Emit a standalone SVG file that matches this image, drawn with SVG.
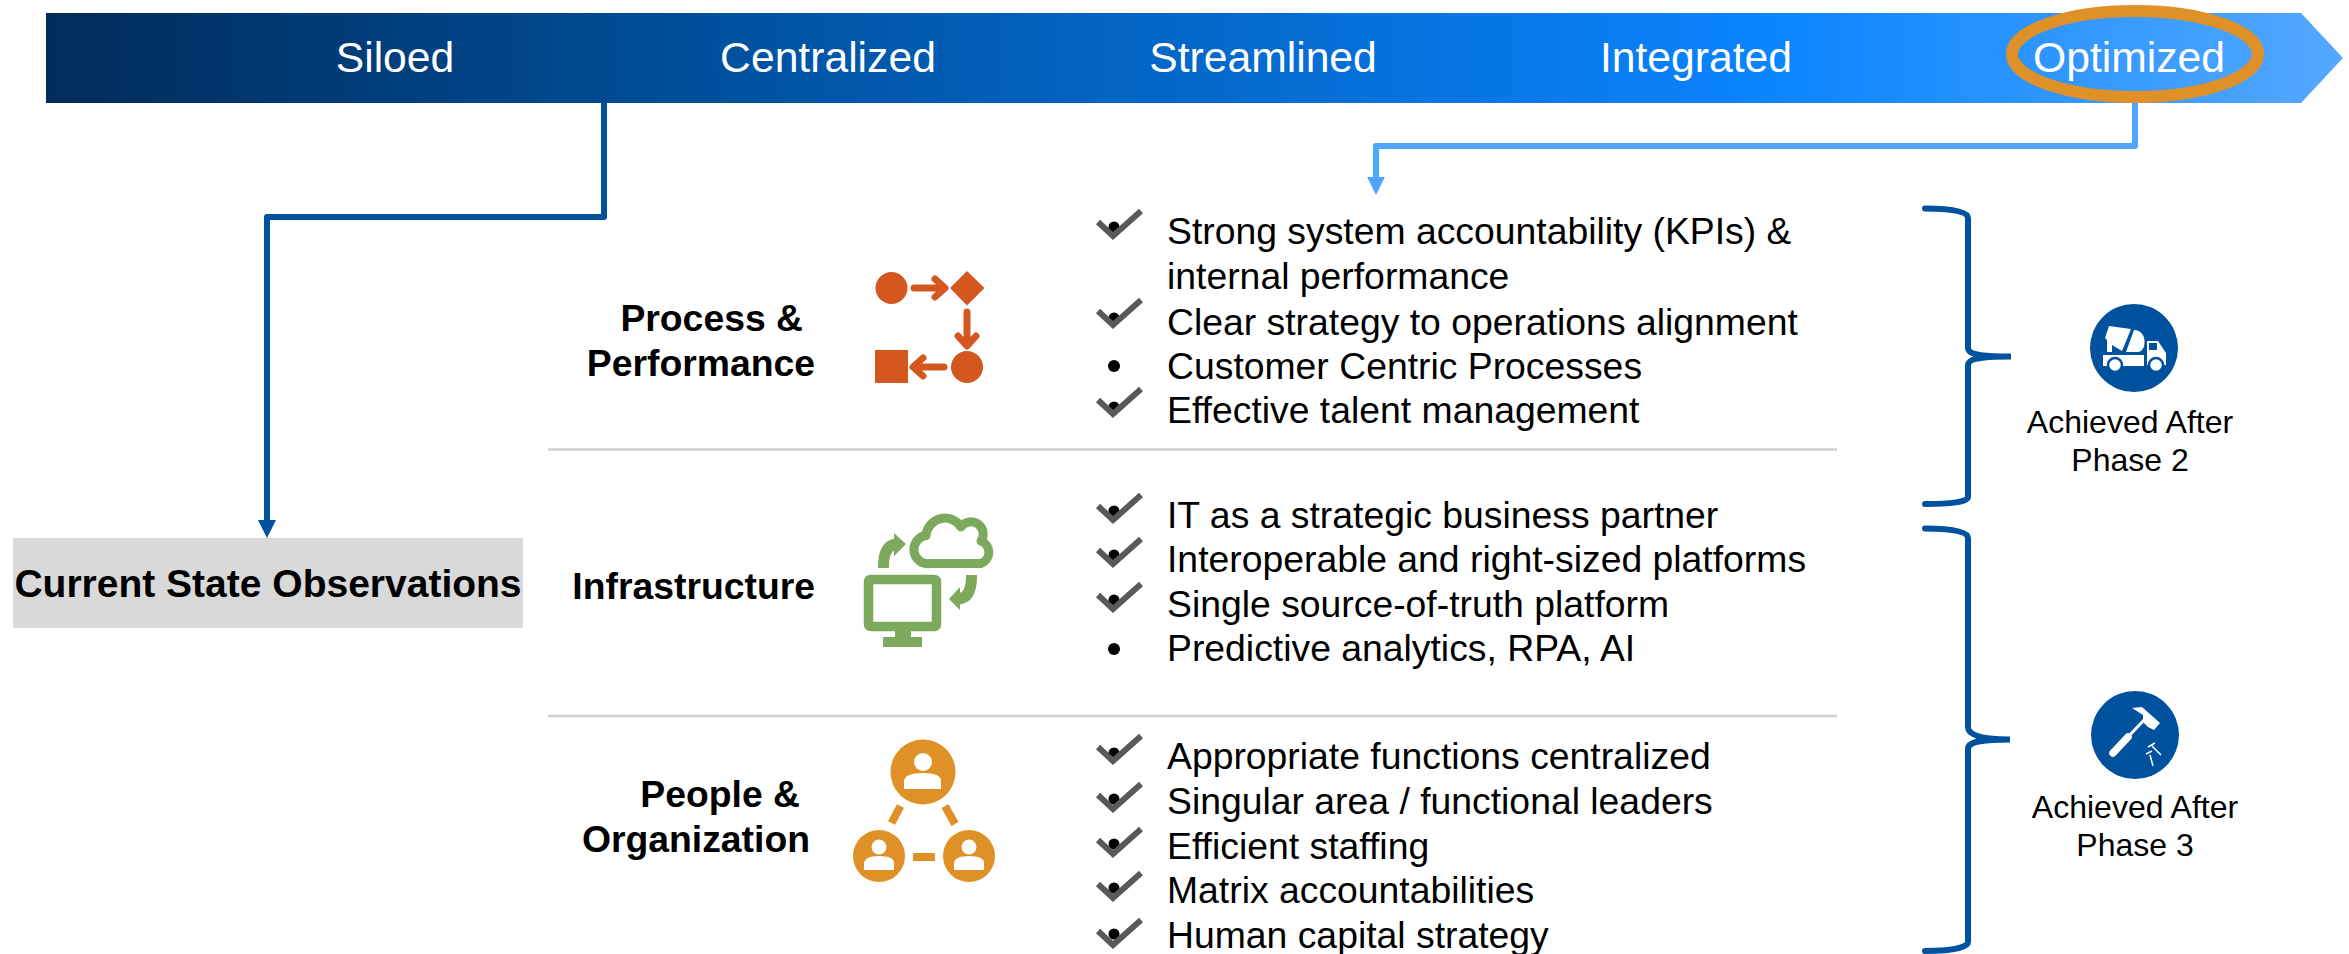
<svg xmlns="http://www.w3.org/2000/svg" xmlns:xlink="http://www.w3.org/1999/xlink" width="2349" height="954" viewBox="0 0 2349 954">
<style>
text{font-family:"Liberation Sans",Arial,sans-serif;fill:#000}
.bar{font-size:42.67px;fill:#fff;text-anchor:middle}
.li{font-size:37.33px}
.h{font-size:37.33px;font-weight:bold;text-anchor:end}
.ach{font-size:32px;text-anchor:middle}
.sep{stroke:#d0d0d0;stroke-width:2.5}
.brace{fill:none;stroke:#00519e;stroke-width:6;stroke-linecap:round}
.o{fill:#d45720}.ol{stroke:#d45720;stroke-width:8;fill:none;stroke-linejoin:round;stroke-linecap:round}
.g{stroke:#7da95d;fill:none}.gf{fill:#7da95d}
.p{fill:#df9027}.w{fill:#fff}.bl{fill:#00519e}
</style>
<defs>
<linearGradient id="barGrad" x1="46" x2="2343" y1="0" y2="0" gradientUnits="userSpaceOnUse">
<stop offset="0" stop-color="#012b5a"/><stop offset="0.33" stop-color="#0055a6"/><stop offset="0.75" stop-color="#0a84ff"/><stop offset="1" stop-color="#54a9ff"/>
</linearGradient>
<path id="chk" d="M-15-14 0 0 28-25" fill="none" stroke="#595959" stroke-width="6"/>
<circle id="bul" r="6" fill="#000"/>
<circle id="dot" r="5.500" fill="#000"/>
</defs>
<g id="connectors" fill="none" stroke-linejoin="round">
<path d="M604 103V217H267V525" stroke="#00519e" stroke-width="6"/>
<path d="M2135 103V146H1376V180" stroke="#4da6ff" stroke-width="6"/>
<path d="M1367 177H1385L1376 195Z" fill="#4da6ff"/>
<path d="M258 520H276L267 538Z" fill="#00519e"/>
</g>
<g id="stage-bar">
<path d="M46 13H2301L2343 58 2301 103H46Z" fill="url(#barGrad)"/>
<text class="bar" x="395" y="72">Siloed</text>
<text class="bar" x="828" y="72">Centralized</text>
<text class="bar" x="1263" y="72">Streamlined</text>
<text class="bar" x="1696" y="72">Integrated</text>
<text class="bar" x="2129" y="72">Optimized</text>
</g>
<g id="highlight"><ellipse cx="2135" cy="54" rx="123" ry="43" fill="none" stroke="#df9027" stroke-width="12"/></g>
<g id="current-state"><rect x="13" y="538" width="510" height="90" fill="#d9d9d9"/><text x="268" y="597" font-size="39" font-weight="bold" text-anchor="middle">Current State Observations</text></g>
<g id="separators"><line class="sep" x1="548" y1="449.5" x2="1837" y2="449.5"/><line class="sep" x1="548" y1="716" x2="1837" y2="716"/></g>
<g id="process">
<text class="h" x="803" y="331">Process &amp;</text><text class="h" x="815" y="376">Performance</text>
<g id="process-icon">
<circle class="o" cx="891.5" cy="288" r="16"/><path class="o" d="M967 271 984.500 288 967 305.500 950 288Z"/><circle class="o" cx="967" cy="367" r="16"/><rect class="o" x="875" y="350" width="33" height="33"/>
<path class="ol" stroke-linecap="butt" d="M914 288H942M935 279 945 288 935 297M967 312V344M958 336 967 346 976 336M944 367H916M923 358 913 367 923 376" style="stroke-width:7"/>
</g>
</g>
<g id="infrastructure">
<text class="h" x="815" y="599">Infrastructure</text>
<g id="infra-icon">
<path class="g" stroke-width="9" stroke-linejoin="round" d="M930 563.500A14 14 0 0 1 926 535.500A19 19 0 0 1 961 527A12 12 0 0 1 981 541A12 12 0 0 1 981 563.500Z"/>
<path class="g" stroke-width="11" d="M883.500 568Q883 546 896 544M971.500 575Q972 598 958 599"/>
<path class="gf" d="M894 533 906 544 894 556ZM960 587 949 599 960 610Z"/>
<rect x="868.500" y="579.500" width="68" height="47" rx="2" class="g" stroke-width="9.500"/>
<path class="gf" d="M895 631H911V637H922V647H883V637H895Z"/>
</g>
</g>
<g id="people">
<text class="h" x="800" y="807">People &amp;</text><text class="h" x="810" y="852">Organization</text>
<g id="people-icon">
<circle class="p" cx="923" cy="772" r="32.500"/><circle class="w" cx="923" cy="762" r="9"/><path class="w" d="M904 789V781Q905 773 923 773 941 773 941 781V789Z"/>
<circle class="p" cx="879" cy="856" r="26"/><circle class="w" cx="879" cy="847" r="7.500"/><path class="w" d="M864 870V863Q865 856 879 856 894 856 894 863V870Z"/>
<circle class="p" cx="969" cy="856" r="26"/><circle class="w" cx="969" cy="847" r="7.500"/><path class="w" d="M954 870V863Q955 856 969 856 984 856 984 863V870Z"/>
<path d="M900.500 806 891.500 823M945 806 955 824" stroke="#df9027" stroke-width="8"/><rect class="p" x="913" y="853" width="22" height="8"/>
</g>
</g>
<g id="process-list">
<use xlink:href="#dot" x="1114" y="227"/><use xlink:href="#chk" x="1113" y="236"/><text class="li" x="1167" y="244">Strong system accountability (KPIs) &amp;</text>
<text class="li" x="1167" y="289">internal performance</text>
<use xlink:href="#dot" x="1114" y="318"/><use xlink:href="#chk" x="1113" y="325"/><text class="li" x="1167" y="335">Clear strategy to operations alignment</text>
<use xlink:href="#bul" x="1114" y="366"/><text class="li" x="1167" y="379">Customer Centric Processes</text>
<use xlink:href="#dot" x="1114" y="407"/><use xlink:href="#chk" x="1113" y="414"/><text class="li" x="1167" y="423">Effective talent management</text>
</g>
<g id="infra-list">
<use xlink:href="#dot" x="1114" y="511"/><use xlink:href="#chk" x="1113" y="520"/><text class="li" x="1167" y="528">IT as a strategic business partner</text>
<use xlink:href="#dot" x="1114" y="555"/><use xlink:href="#chk" x="1113" y="564"/><text class="li" x="1167" y="572">Interoperable and right-sized platforms</text>
<use xlink:href="#dot" x="1114" y="600"/><use xlink:href="#chk" x="1113" y="609"/><text class="li" x="1167" y="617">Single source-of-truth platform</text>
<use xlink:href="#bul" x="1114" y="649"/><text class="li" x="1167" y="661">Predictive analytics, RPA, AI</text>
</g>
<g id="people-list">
<use xlink:href="#dot" x="1114" y="753"/><use xlink:href="#chk" x="1113" y="761"/><text class="li" x="1167" y="769">Appropriate functions centralized</text>
<use xlink:href="#dot" x="1114" y="799"/><use xlink:href="#chk" x="1113" y="809"/><text class="li" x="1167" y="814">Singular area / functional leaders</text>
<use xlink:href="#dot" x="1114" y="844"/><use xlink:href="#chk" x="1113" y="854"/><text class="li" x="1167" y="859">Efficient staffing</text>
<use xlink:href="#dot" x="1114" y="888"/><use xlink:href="#chk" x="1113" y="898"/><text class="li" x="1167" y="903">Matrix accountabilities</text>
<use xlink:href="#dot" x="1114" y="934"/><use xlink:href="#chk" x="1113" y="945"/><text class="li" x="1167" y="948">Human capital strategy</text>
</g>
<g id="phase2">
<path class="brace" d="M1925 208.500C1950 208.500 1968 211 1968 218V348C1968 353 1975 356.500 2011 356.500C1975 356.500 1968 360 1968 365V497C1968 502 1950 504 1925 504"/>
<circle class="bl" cx="2134" cy="348" r="44"/>
<path class="w" d="M2109 326 2131 329 2122 351 2112 345V352H2107V340L2105 338ZM2134 330C2148 330 2147 352 2138 352L2126 352ZM2103 355H2144V366H2103ZM2147 341H2158L2166 353V365H2147Z"/>
<rect class="bl" x="2149" y="343" width="8" height="7"/>
<circle class="w" cx="2115" cy="365" r="7" stroke="#00519e" stroke-width="2.500"/><circle class="w" cx="2156" cy="365" r="7" stroke="#00519e" stroke-width="2.500"/>
<text class="ach" x="2130" y="433">Achieved After</text><text class="ach" x="2130" y="471">Phase 2</text>
</g>
<g id="phase3">
<path class="brace" d="M1925 528.500C1950 528.500 1968 531 1968 538V727C1968 733 1975 739.500 2010 739.500C1975 739.500 1968 743 1968 749V942C1968 948 1950 951 1925 951"/>
<circle class="bl" cx="2135" cy="735" r="44"/>
<path class="w" d="M2132 708 2142 707 2160 723 2154 730 2148 727 2143 722 2143 715Z"/>
<path d="M2113 753 2128 737" stroke="#fff" stroke-width="7.500" stroke-linecap="round"/><path d="M2126 739 2146 718" stroke="#fff" stroke-width="3"/>
<path d="M2152 746 2161 755M2148 747 2155 743M2150 755 2153 766M2146 754 2152 751" stroke="#fff" stroke-width="1.500"/>
<text class="ach" x="2135" y="818">Achieved After</text><text class="ach" x="2135" y="856">Phase 3</text>
</g>
</svg>
